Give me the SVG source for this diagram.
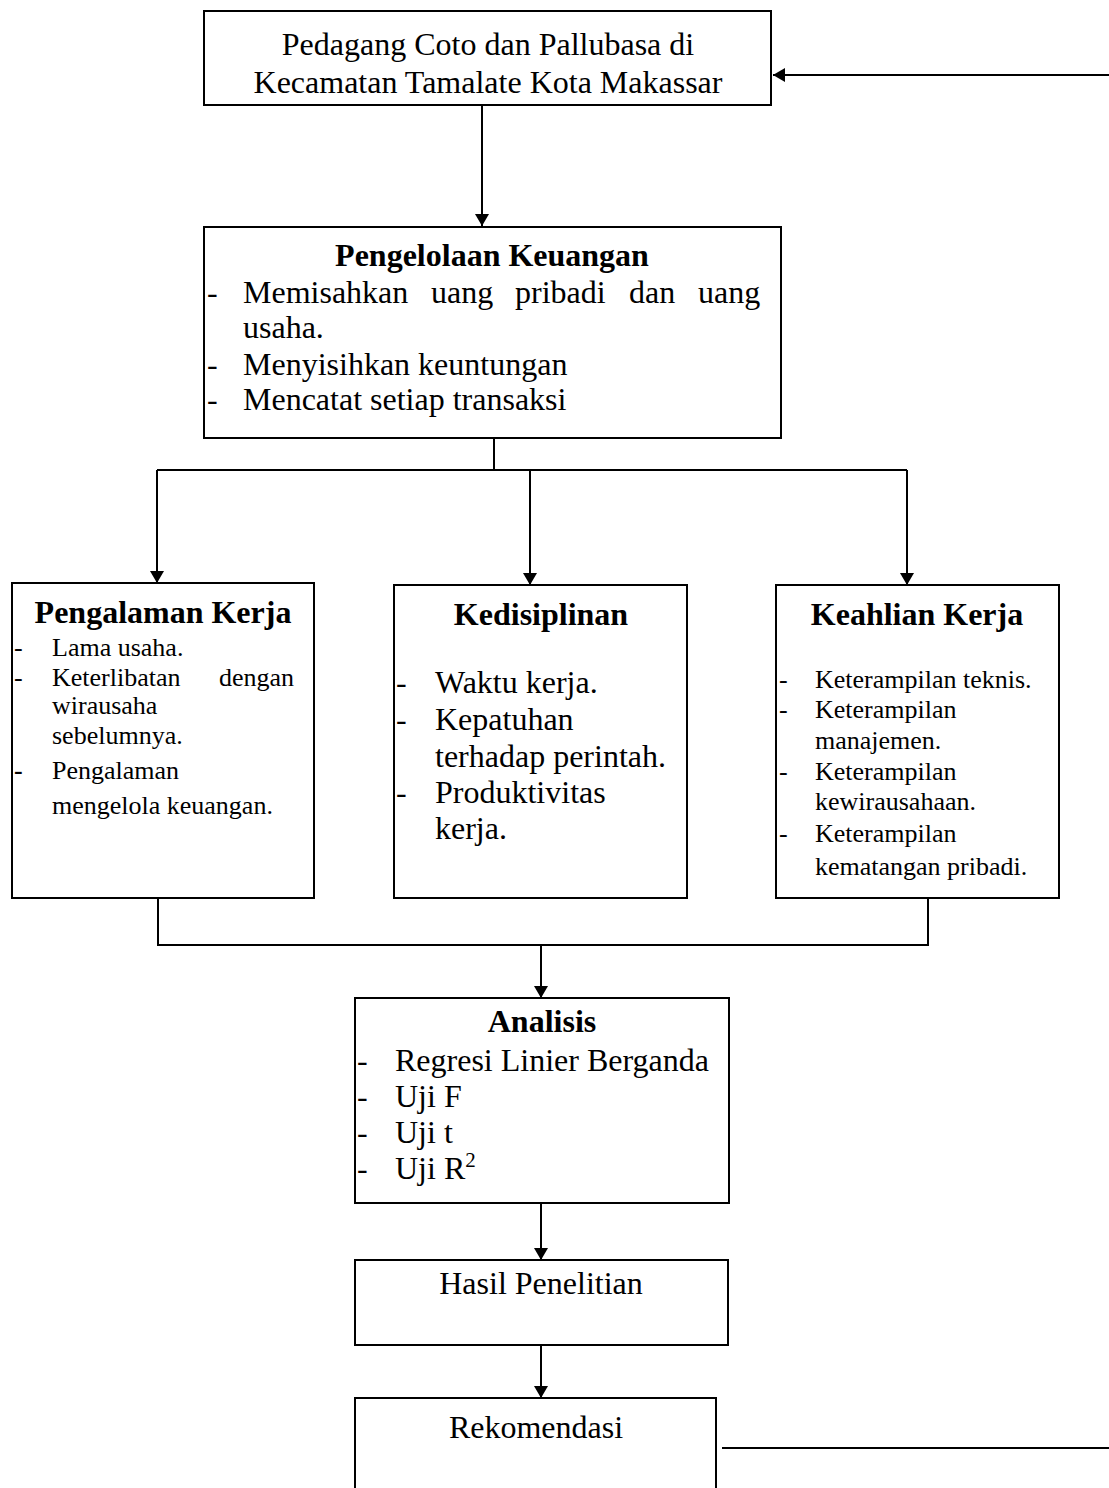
<svg xmlns="http://www.w3.org/2000/svg" width="1109" height="1488" viewBox="0 0 1109 1488">
<style>
.box{fill:#fff;stroke:#000;stroke-width:2}
.t{font-family:"Liberation Serif","Times New Roman",serif;fill:#000;font-size:32px}
.s{font-size:26px}
.b{font-weight:bold}
.c{text-anchor:middle}
.ln{fill:none;stroke:#000;stroke-width:2}
</style>
<defs>
<marker id="ah" markerWidth="12" markerHeight="14" refX="12" refY="7" orient="auto" markerUnits="userSpaceOnUse">
<path d="M0,0 L12,7 L0,14 Z" fill="#000"/>
</marker>
</defs>
<rect width="1109" height="1488" fill="#fff"/>
<g id="connectors">
<line class="ln" x1="1109" y1="75" x2="773" y2="75" marker-end="url(#ah)"/>
<line class="ln" x1="482" y1="105" x2="482" y2="226" marker-end="url(#ah)"/>
<polyline class="ln" points="494,438 494,470"/>
<line class="ln" x1="157" y1="470" x2="907" y2="470"/>
<line class="ln" x1="157" y1="470" x2="157" y2="583" marker-end="url(#ah)"/>
<line class="ln" x1="530" y1="470" x2="530" y2="585" marker-end="url(#ah)"/>
<line class="ln" x1="907" y1="470" x2="907" y2="585" marker-end="url(#ah)"/>
<polyline class="ln" points="158,898 158,945 928,945 928,898"/>
<line class="ln" x1="541" y1="945" x2="541" y2="998" marker-end="url(#ah)"/>
<line class="ln" x1="541" y1="1203" x2="541" y2="1260" marker-end="url(#ah)"/>
<line class="ln" x1="541" y1="1345" x2="541" y2="1398" marker-end="url(#ah)"/>
<line class="ln" x1="722" y1="1448" x2="1109" y2="1448"/>
</g>
<g id="pedagang">
<rect class="box" x="204" y="11" width="567" height="94"/>
<text class="t c" x="488" y="55">Pedagang Coto dan Pallubasa di</text>
<text class="t c" x="488" y="93">Kecamatan Tamalate Kota Makassar</text>
</g>
<g id="pengelolaan">
<rect class="box" x="204" y="227" width="577" height="211"/>
<text class="t b c" x="492" y="266">Pengelolaan Keuangan</text>
<text class="t" x="207" y="303">-</text>
<text class="t" y="303"><tspan x="243">Memisahkan</tspan><tspan x="431">uang</tspan><tspan x="515">pribadi</tspan><tspan x="629">dan</tspan><tspan x="698">uang</tspan></text>
<text class="t" x="243" y="338">usaha.</text>
<text class="t" x="207" y="375">-</text>
<text class="t" x="243" y="375">Menyisihkan keuntungan</text>
<text class="t" x="207" y="410">-</text>
<text class="t" x="243" y="410">Mencatat setiap transaksi</text>
</g>
<g id="pengalaman">
<rect class="box" x="12" y="583" width="302" height="315"/>
<text class="t b c" x="163" y="623">Pengalaman Kerja</text>
<text class="t s" x="14" y="656">-</text>
<text class="t s" x="52" y="656">Lama usaha.</text>
<text class="t s" x="14" y="686">-</text>
<text class="t s" x="52" y="686">Keterlibatan</text>
<text class="t s" x="294" y="686" text-anchor="end">dengan</text>
<text class="t s" x="52" y="714">wirausaha</text>
<text class="t s" x="52" y="744">sebelumnya.</text>
<text class="t s b" x="14" y="779">-</text>
<text class="t s" x="52" y="779">Pengalaman</text>
<text class="t s" x="52" y="814">mengelola keuangan.</text>
</g>
<g id="kedisiplinan">
<rect class="box" x="394" y="585" width="293" height="313"/>
<text class="t b c" x="541" y="625">Kedisiplinan</text>
<text class="t" x="396" y="693">-</text>
<text class="t" x="435" y="693">Waktu kerja.</text>
<text class="t" x="396" y="730">-</text>
<text class="t" x="435" y="730">Kepatuhan</text>
<text class="t" x="435" y="767">terhadap perintah.</text>
<text class="t" x="396" y="803">-</text>
<text class="t" x="435" y="803">Produktivitas</text>
<text class="t" x="435" y="839">kerja.</text>
</g>
<g id="keahlian">
<rect class="box" x="776" y="585" width="283" height="313"/>
<text class="t b c" x="917" y="625">Keahlian Kerja</text>
<text class="t s" x="779" y="688">-</text>
<text class="t s" x="815" y="688">Keterampilan teknis.</text>
<text class="t s" x="779" y="718">-</text>
<text class="t s" x="815" y="718">Keterampilan</text>
<text class="t s" x="815" y="749">manajemen.</text>
<text class="t s" x="779" y="780">-</text>
<text class="t s" x="815" y="780">Keterampilan</text>
<text class="t s" x="815" y="810">kewirausahaan.</text>
<text class="t s" x="779" y="842">-</text>
<text class="t s" x="815" y="842">Keterampilan</text>
<text class="t s" x="815" y="875">kematangan pribadi.</text>
</g>
<g id="analisis">
<rect class="box" x="355" y="998" width="374" height="205"/>
<text class="t b c" x="542" y="1032">Analisis</text>
<text class="t" x="357" y="1071">-</text>
<text class="t" x="395" y="1071">Regresi Linier Berganda</text>
<text class="t" x="357" y="1107">-</text>
<text class="t" x="395" y="1107">Uji F</text>
<text class="t" x="357" y="1143">-</text>
<text class="t" x="395" y="1143">Uji t</text>
<text class="t" x="357" y="1179">-</text>
<text class="t" x="395" y="1179">Uji R<tspan font-size="21" dy="-12">2</tspan></text>
</g>
<g id="hasil">
<rect class="box" x="355" y="1260" width="373" height="85"/>
<text class="t c" x="541" y="1294">Hasil Penelitian</text>
</g>
<g id="rekomendasi">
<rect class="box" x="355" y="1398" width="361" height="110"/>
<text class="t c" x="536" y="1438">Rekomendasi</text>
</g>
</svg>
